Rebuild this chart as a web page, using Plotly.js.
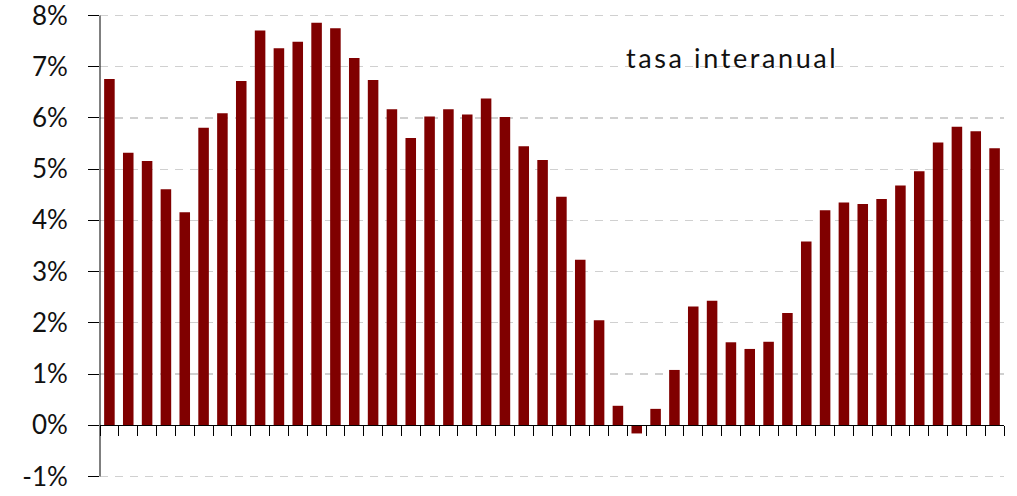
<!DOCTYPE html>
<html>
<head>
<meta charset="utf-8">
<script src="https://cdn.plot.ly/plotly-3.0.1.min.js"></script>
<style>html,body{margin:0;padding:0;background:#fff;}#chart{width:1017px;height:496px;}</style>
</head>
<body>
<div id="chart"></div>
<script>
// Period index (labels not shown in the reference)
const periods = ["1","2","3","4","5","6","7","8","9","10","11","12","13","14","15","16",
  "17","18","19","20","21","22","23","24","25","26","27","28","29","30","31","32",
  "33","34","35","36","37","38","39","40","41","42","43","44","45","46","47","48"];
// Year-on-year rate (%)
const tasaInteranual = [6.76,5.32,5.16,4.61,4.16,5.81,6.09,6.72,7.71,7.36,7.49,7.86,7.75,
  7.17,6.74,6.17,5.61,6.03,6.17,6.07,6.38,6.02,5.45,5.18,4.46,3.23,2.05,0.38,-0.16,0.32,
  1.08,2.32,2.43,1.62,1.49,1.63,2.19,3.59,4.20,4.35,4.32,4.42,4.68,4.96,5.52,5.83,5.74,5.41];
const yTickVals = [-1,0,1,2,3,4,5,6,7,8];
const yTickText = ["-1%","0%","1%","2%","3%","4%","5%","6%","7%","8%"];
const seriesLabel = "tasa interanual";

const pad = 0.03;           // small range padding so the end gridlines are drawn
const yMin = -1 - pad, yMax = 8 + pad;
const pxPerUnit = 461.4 / 9;

const trace = {
  type: "bar",
  x: periods,
  y: tasaInteranual,
  marker: {color: "#800000", line: {width: 0}},
  hoverinfo: "y"
};

const layout = {
  width: 1017, height: 496,
  margin: {l: 99.5, r: 13, t: 15.3 - pad * pxPerUnit, b: 19.3 - pad * pxPerUnit},
  paper_bgcolor: "#fff", plot_bgcolor: "#fff",
  bargap: 0.44,
  showlegend: false,
  font: {family: "Lato, 'Open Sans', sans-serif", color: "#111"},
  xaxis: {
    type: "category",
    range: [-0.5, periods.length - 0.5],
    anchor: "free",
    position: (0 - yMin) / (yMax - yMin),
    showline: true, linecolor: "#000", linewidth: 1,
    ticks: "outside", ticklen: 10, tickcolor: "#000", tickwidth: 1,
    tickson: "boundaries",
    showticklabels: false,
    showgrid: false, zeroline: false,
    fixedrange: true
  },
  yaxis: {
    range: [yMin, yMax],
    tickvals: yTickVals, ticktext: yTickText,
    showline: false,
    ticks: "outside", ticklen: 11, tickcolor: "#000", tickwidth: 1,
    showgrid: true, gridcolor: "#d0d0d0", gridwidth: 1.2, griddash: "8px,7px",
    zeroline: false,
    tickfont: {family: "Lato, 'Open Sans', sans-serif", size: 26, color: "#111"},
    ticklabelstandoff: 15,
    ticklabeloverflow: "allow",
    fixedrange: true
  },
  shapes: [{
    type: "line", xref: "paper", yref: "y",
    x0: 0, x1: 0, y0: -1, y1: 8,
    line: {color: "#000", width: 1}
  }],
  annotations: [{
    text: '<span style="letter-spacing:2.6px">' + seriesLabel + '</span>',
    xref: "paper", yref: "y",
    x: 0.699, y: 7.19,
    xanchor: "center", yanchor: "middle",
    showarrow: false,
    font: {family: "Lato, 'Open Sans', sans-serif", size: 27, color: "#111"}
  }]
};

Plotly.newPlot("chart", [trace], layout, {displayModeBar: false, staticPlot: true});
</script>
</body>
</html>
